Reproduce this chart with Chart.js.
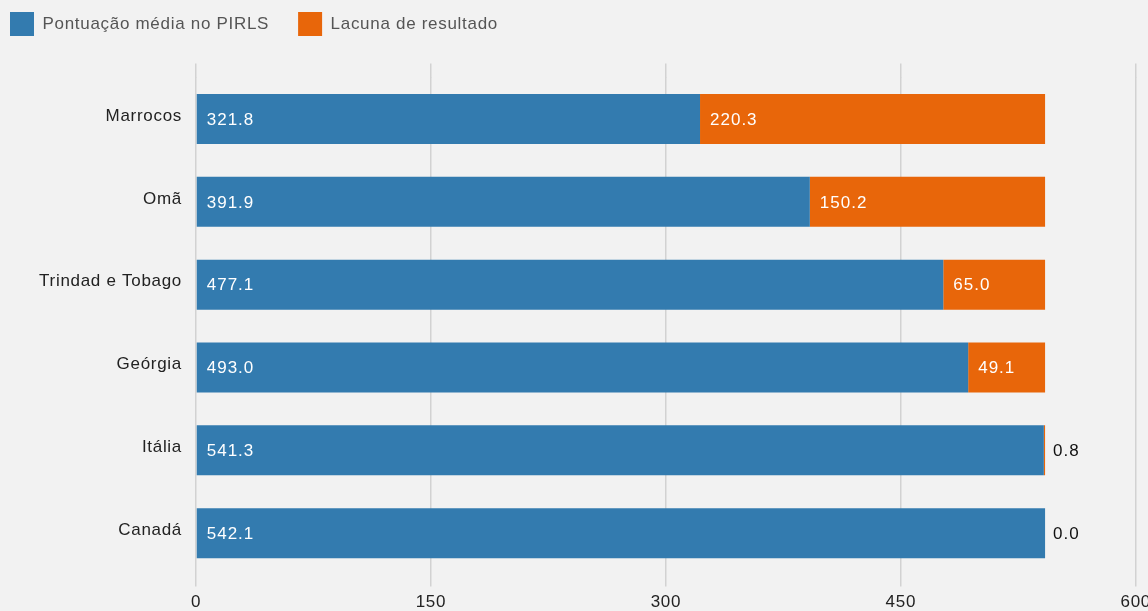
<!DOCTYPE html>
<html>
<head>
<meta charset="utf-8">
<script src="https://cdn.jsdelivr.net/npm/chart.js@4"></script>
<style>
  html, body { margin: 0; padding: 0; background: #f2f2f2; overflow: hidden; }
  canvas { display: block; }
</style>
</head>
<body>
<canvas id="pirlsChart" width="1157" height="619"></canvas>
<script>
const countries = ['Marrocos', 'Omã', 'Trindad e Tobago', 'Geórgia', 'Itália', 'Canadá'];
const meanScores = [321.8, 391.9, 477.1, 493.0, 541.3, 542.1];
const scoreGaps = [220.3, 150.2, 65.0, 49.1, 0.8, 0.0];
const seriesNames = ['Pontuação média no PIRLS', 'Lacuna de resultado'];
const xTicks = [0, 150, 300, 450, 600];

const FONT = '"Liberation Sans", Arial, Helvetica, sans-serif';
const SPACING = '0.7px';
const gridColor = '#d2d2d2';

// the reference text is set a bit loose, so widen letters on the canvas
const letterSpacing = {
    id: 'letterSpacing',
    beforeLayout(chart) { chart.ctx.letterSpacing = SPACING; },
    beforeDraw(chart) { chart.ctx.letterSpacing = SPACING; }
};

// Value labels: inside the segment in white, or after the bar end when the segment is too thin
const valueLabels = {
    id: 'valueLabels',
    afterDatasetsDraw(chart) {
        const ctx = chart.ctx;
        ctx.save();
        ctx.letterSpacing = '1px';
        ctx.font = '17px ' + FONT;
        ctx.textBaseline = 'middle';
        ctx.textAlign = 'left';
        chart.data.datasets.forEach((ds, di) => {
            const meta = chart.getDatasetMeta(di);
            meta.data.forEach((bar, i) => {
                const text = ds.data[i].toFixed(1);
                const left = Math.min(bar.x, bar.base);
                const right = Math.max(bar.x, bar.base);
                const w = ctx.measureText(text).width;
                if (right - left > w + 20) {
                    ctx.fillStyle = '#ffffff';
                    ctx.fillText(text, left + 10, bar.y + 1);
                } else {
                    ctx.fillStyle = '#111111';
                    ctx.fillText(text, right + 8, bar.y + 1);
                }
            });
        });
        ctx.restore();
    }
};

// Extra room below the legend
const legendMargin = {
    id: 'legendMargin',
    beforeInit(chart) {
        const fit = chart.legend.fit;
        chart.legend.fit = function () {
            fit.bind(chart.legend)();
            this.height += 17.6;
        };
    }
};

const ctx = document.getElementById('pirlsChart').getContext('2d');
const chart = new Chart(ctx, {
    type: 'bar',
    data: {
        labels: countries,
        datasets: [{
            label: seriesNames[0],
            data: meanScores,
            backgroundColor: '#337baf',
            borderWidth: 0
        }, {
            label: seriesNames[1],
            data: scoreGaps,
            backgroundColor: '#e8660a',
            borderWidth: 0
        }]
    },
    options: {
        indexAxis: 'y',
        responsive: false,
        animation: false,
        events: [],
        layout: {
            padding: { left: -19, top: -17, right: 0, bottom: 0 }
        },
        datasets: {
            bar: { categoryPercentage: 1, barPercentage: 0.604 }
        },
        scales: {
            x: {
                stacked: true,
                min: 0,
                max: 600,
                afterBuildTicks(scale) { scale.ticks = xTicks.map(v => ({ value: v })); },
                grid: { color: gridColor, lineWidth: 1.5, tickLength: 12 },
                border: { display: false },
                ticks: { color: '#222', padding: 6, font: { family: FONT, size: 17 } }
            },
            x2: {
                position: 'top',
                min: 0,
                max: 600,
                afterBuildTicks(scale) { scale.ticks = xTicks.map(v => ({ value: v })); },
                grid: { color: gridColor, lineWidth: 1.5, tickLength: 14, drawOnChartArea: false },
                border: { display: false },
                ticks: { display: false }
            },
            y: {
                stacked: true,
                afterFit(scale) { scale.width = 215; },
                grid: { display: false, drawTicks: false },
                border: { display: false },
                ticks: { color: '#222', padding: 14, labelOffset: -3, font: { family: FONT, size: 17 } }
            }
        },
        plugins: {
            legend: {
                position: 'top',
                align: 'start',
                labels: {
                    boxWidth: 24,
                    boxHeight: 24,
                    padding: 29,
                    color: '#555',
                    font: { family: FONT, size: 17 }
                }
            },
            tooltip: { enabled: false }
        }
    },
    plugins: [letterSpacing, valueLabels, legendMargin]
});
</script>
</body>
</html>
